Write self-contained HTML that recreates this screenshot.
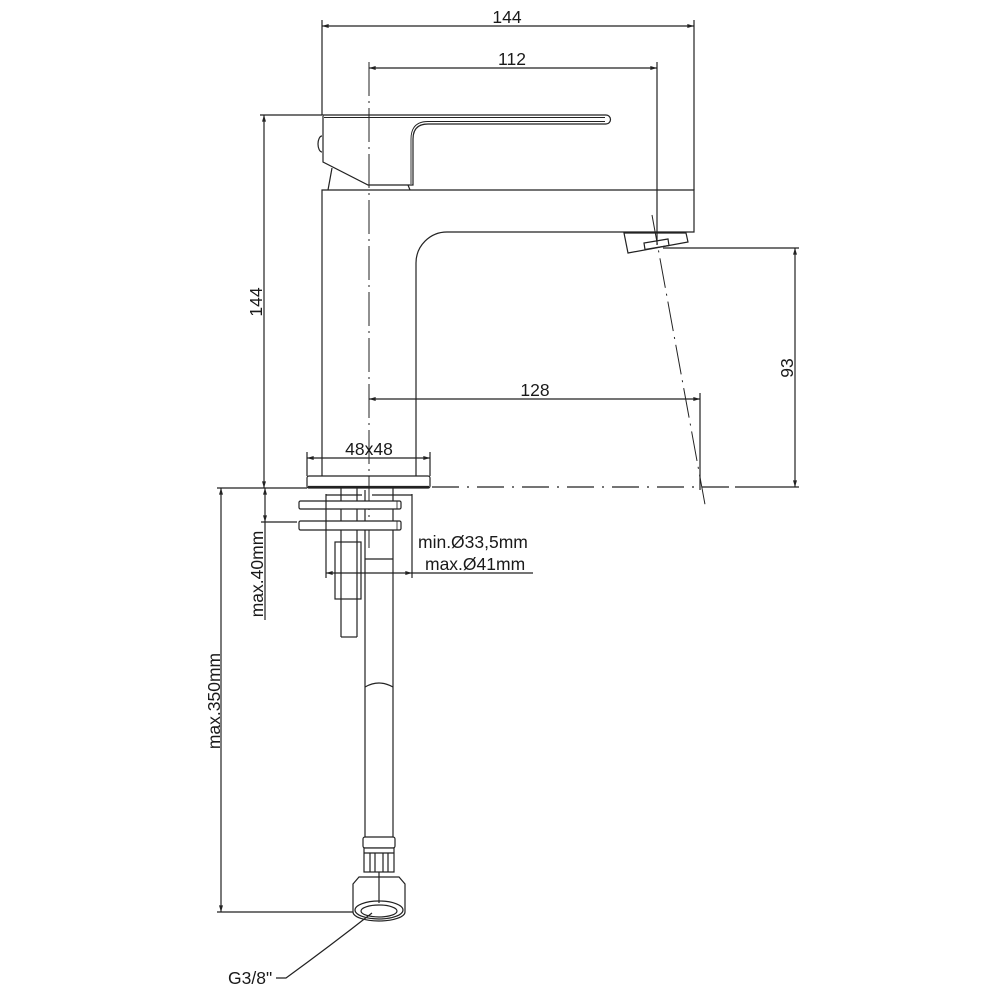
<!DOCTYPE html>
<html><head><meta charset="utf-8"><style>
html,body{margin:0;padding:0;background:#fff;}
svg{display:block;}
text{font-family:"Liberation Sans",Arial,sans-serif;font-size:17.5px;fill:#1a1a1a;}
</style></head><body>
<svg width="1000" height="1000" viewBox="0 0 1000 1000" xmlns="http://www.w3.org/2000/svg">
<defs>
<marker id="ar" viewBox="0 0 10 6" refX="10" refY="3" markerWidth="8" markerHeight="4" orient="auto-start-reverse" markerUnits="userSpaceOnUse"><path d="M0,0 L10,3 L0,6 z" fill="#222"/></marker>
</defs>
<rect width="1000" height="1000" fill="#fff"/>
<g stroke="#222" stroke-width="1.2" fill="none">
<!-- top dimensions -->
<line x1="322" y1="20" x2="322" y2="115"/>
<line x1="694" y1="20" x2="694" y2="190"/>
<line x1="322" y1="26" x2="694" y2="26" marker-start="url(#ar)" marker-end="url(#ar)"/>
<line x1="657" y1="62" x2="657" y2="245"/>
<line x1="369" y1="68" x2="657" y2="68" marker-start="url(#ar)" marker-end="url(#ar)"/>
<!-- left 144 -->
<line x1="260" y1="115" x2="322" y2="115"/>
<line x1="264" y1="115" x2="264" y2="488" marker-start="url(#ar)" marker-end="url(#ar)"/>
<!-- centerline -->
<line x1="369" y1="62" x2="369" y2="548" stroke-dasharray="34 5 2 5" stroke-width="1"/>
<!-- handle -->
<path d="M323,115 L606,115 A4.5,4.5 0 0 1 606,124 L428,124 Q413,124 413,139 L413,185 L368,185 L323,162 Z"/>
<line x1="324" y1="117.5" x2="605" y2="117.5" stroke-width="0.9"/>
<path d="M605,121.5 L428,121.5 Q411,121.5 411,139 L411,184" stroke-width="0.9"/>
<path d="M322,136 A4,8 0 0 0 322,152"/>
<line x1="332" y1="168" x2="328" y2="190"/>
<line x1="408" y1="185" x2="410" y2="190"/>
<!-- body -->
<path d="M322,476 L322,190 L694,190 L694,232 L447,232 A31,31 0 0 0 416,263 L416,476"/>
<!-- aerator -->
<polygon points="624,233 628,253 688,242 686,233"/>
<polygon points="644,243 645,249.5 669,245.5 668,239"/>
<!-- tilted centerline -->
<line x1="652" y1="215" x2="706" y2="510" stroke-dasharray="30 6 2 6" stroke-width="1"/>
<!-- 93 -->
<line x1="663" y1="248" x2="799" y2="248"/>
<line x1="795" y1="248" x2="795" y2="487" marker-start="url(#ar)" marker-end="url(#ar)"/>
<!-- 128 -->
<line x1="700" y1="393" x2="700" y2="490"/>
<line x1="369" y1="399" x2="700" y2="399" marker-start="url(#ar)" marker-end="url(#ar)"/>
<!-- 48x48 -->
<line x1="307" y1="452" x2="307" y2="476"/>
<line x1="430" y1="452" x2="430" y2="476"/>
<line x1="307" y1="458" x2="430" y2="458" marker-start="url(#ar)" marker-end="url(#ar)"/>
<!-- base plate -->
<rect x="307" y="476" width="123" height="12" rx="2"/>
<line x1="308" y1="487" x2="429" y2="487" stroke-width="2.2"/>
<!-- baseline -->
<line x1="217" y1="488" x2="307" y2="488"/>
<line x1="432" y1="487" x2="735" y2="487" stroke-dasharray="27 8 2 8"/>
<line x1="735" y1="487" x2="799" y2="487"/>
<!-- below base -->
<line x1="326" y1="495" x2="362" y2="495"/>
<line x1="372" y1="495" x2="412" y2="495"/>
<line x1="341" y1="488" x2="341" y2="637"/>
<line x1="357" y1="488" x2="357" y2="637"/>
<line x1="341" y1="637" x2="357" y2="637"/>
<rect x="335" y="542" width="26" height="57" fill="#fff"/>
<line x1="341" y1="542" x2="341" y2="599"/>
<line x1="357" y1="542" x2="357" y2="599"/>
<line x1="365" y1="490" x2="365" y2="840"/>
<line x1="393" y1="488" x2="393" y2="840"/>
<line x1="365" y1="559" x2="393" y2="559"/>
<rect x="299" y="501" width="102" height="8" rx="1.5" fill="#fff"/>
<rect x="299" y="521" width="102" height="9" rx="1.5" fill="#fff"/>
<line x1="397" y1="501" x2="397" y2="509" stroke-width="0.8"/>
<line x1="397" y1="521" x2="397" y2="530" stroke-width="0.8"/>
<line x1="326" y1="494" x2="326" y2="578"/>
<line x1="412" y1="494" x2="412" y2="578"/>
<line x1="326" y1="573" x2="412" y2="573" marker-start="url(#ar)" marker-end="url(#ar)"/>
<line x1="412" y1="573" x2="533" y2="573"/>
<!-- max.40 -->
<line x1="261" y1="522" x2="297" y2="522"/>
<line x1="265" y1="488" x2="265" y2="522" marker-start="url(#ar)" marker-end="url(#ar)"/>
<line x1="265" y1="522" x2="265" y2="620"/>
<!-- max.350 -->
<line x1="221" y1="488" x2="221" y2="912" marker-start="url(#ar)" marker-end="url(#ar)"/>
<line x1="217" y1="912" x2="365" y2="912"/>
<!-- hose cap -->
<path d="M365,687 Q379,679 393,687"/>
<!-- fitting -->
<rect x="363" y="837" width="32" height="11" rx="2" fill="#fff"/>
<rect x="364" y="848" width="30" height="24" fill="#fff"/>
<line x1="364" y1="853" x2="394" y2="853"/>
<line x1="370" y1="853" x2="370" y2="872"/>
<line x1="375" y1="853" x2="375" y2="872"/>
<line x1="383" y1="853" x2="383" y2="872"/>
<line x1="388" y1="853" x2="388" y2="872"/>
<line x1="379" y1="872" x2="379" y2="877"/>
<path d="M353,884 L359,877 L399,877 L405,884 L405,912 A26,9 0 0 1 353,912 Z" fill="#fff"/>
<line x1="379" y1="877" x2="379" y2="903"/>
<ellipse cx="379" cy="910" rx="24" ry="9"/>
<ellipse cx="379" cy="911" rx="18" ry="6"/>
<path d="M276,978 L286,978 Q330,946 372,913"/>
</g>
<!-- labels -->
<text x="507" y="23" text-anchor="middle">144</text>
<text x="512" y="65" text-anchor="middle">112</text>
<text transform="translate(262,302) rotate(-90)" text-anchor="middle">144</text>
<text transform="translate(793,368) rotate(-90)" text-anchor="middle">93</text>
<text x="535" y="396" text-anchor="middle">128</text>
<text x="369" y="455" text-anchor="middle">48x48</text>
<text x="418" y="548">min.Ø33,5mm</text>
<text x="425" y="570">max.Ø41mm</text>
<text transform="translate(263,574) rotate(-90)" text-anchor="middle">max.40mm</text>
<text transform="translate(220,701) rotate(-90)" text-anchor="middle">max.350mm</text>
<text x="228" y="984">G3/8"</text>
</svg>
</body></html>
